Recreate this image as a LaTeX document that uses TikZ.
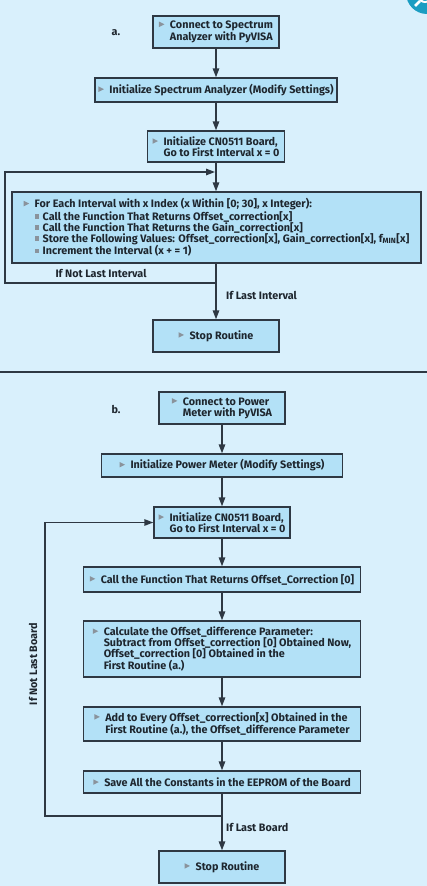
\documentclass[tikz,border=0pt]{standalone}
\usepackage{fontspec}
\setmainfont{Fira Sans}
\usetikzlibrary{arrows.meta}
\definecolor{bg}{HTML}{D9F0FC}
\definecolor{boxfill}{HTML}{B3E1F7}
\definecolor{edge}{HTML}{2E3843}
\definecolor{txt}{HTML}{1E262E}
\definecolor{mk}{HTML}{8A939C}
\definecolor{tealc}{HTML}{1B9DC2}
\newcommand{\tri}{\makebox[11pt][l]{\tikz[baseline=0pt]{\fill[mk] (0pt,1.5pt)--(0pt,7pt)--(5.5pt,4.25pt)--cycle;}}}
\newcommand{\ind}{\hspace*{11pt}}
\newcommand{\sqb}{\makebox[8pt][l]{\tikz[baseline=0pt]{\fill[mk] (0pt,1.5pt) rectangle (4.5pt,6pt);}}}
\tikzset{
  box/.style={draw=edge, line width=1.4pt, fill=boxfill, inner sep=0pt,
    font=\bfseries\fontsize{10.8}{11}\selectfont, text=txt, align=left},
  flow/.style={draw=edge, line width=1.4pt, -{Triangle[length=9pt,width=6.5pt]}},
  lbl/.style={font=\bfseries\fontsize{10.8}{11}\selectfont, text=txt, inner sep=0pt}
}
\begin{document}
\begin{tikzpicture}[x=1pt,y=-1pt]
\useasboundingbox (0,0) rectangle (427,886);
\fill[bg] (0,0) rectangle (427,886);
\begin{scope}
\clip (0,0) rectangle (427,886);
\fill[tealc] (427,-7) circle (21pt);
\draw[white, line width=2pt] (425,-4) circle (6pt);
\draw[white, line width=2.5pt] (420,1) -- (415,6);
\end{scope}

% part a
\node[lbl] (la) at (116,33) {a.};
\node[box, minimum width=126pt, minimum height=32pt] (a1) at (216,32) {\tri Connect to Spectrum\\\ind Analyzer with PyVISA};
\node[box, minimum width=242pt, minimum height=24pt] (a2) at (216,90) {\tri Initialize Spectrum Analyzer (Modify Settings)};
\node[box, minimum width=137pt, minimum height=31pt] (a3) at (216,146.5) {\tri Initialize CN0511 Board,\\\ind Go to First Interval x = 0};
\node[box, minimum width=409pt, minimum height=71pt] (a4) at (216.5,227.5) {\tri For Each Interval with x Index (x Within [0; 30], x Integer):\\
\ind\sqb Call the Function That Returns Offset\_correction[x]\\
\ind\sqb Call the Function That Returns the Gain\_correction[x]\\
\ind\sqb Store the Following Values: Offset\_correction[x], Gain\_correction[x], f\textsubscript{MIN}[x]\\
\ind\sqb Increment the Interval (x + = 1)};
\node[box, minimum width=126pt, minimum height=32pt] (a5) at (216,336) {\tri Stop Routine};

\coordinate (aj) at (216,283);
\coordinate (aL1) at (5,283);
\coordinate (aL2) at (5,172);
\coordinate (al) at (216,172);

\draw[flow] (a1) -- (a2);
\draw[flow] (a2) -- (a3);
\draw[flow] (a3.south) -- (a4.north -| a3.south);
\draw[flow] (a4.south -| a5.north) -- (a5.north);
\draw[flow, shorten >=1pt] (aj) -- (aL1) -- (aL2) -- (al);
\node[lbl] (nli) at (101,273) {If Not Last Interval};
\node[lbl, anchor=west] (li) at (226,295) {If Last Interval};

% separator
\coordinate (sL) at (0,372);
\coordinate (sR) at (427,372);
\draw[edge, line width=2pt] (sL) -- (sR);

% part b
\node[lbl] (lb) at (116,409) {b.};
\node[box, minimum width=126pt, minimum height=32pt] (b1) at (222,408) {\tri Connect to Power\\\ind Meter with PyVISA};
\node[box, minimum width=241pt, minimum height=23pt] (b2) at (222,465.5) {\tri Initialize Power Meter (Modify Settings)};
\node[box, minimum width=136pt, minimum height=31pt] (b3) at (222,522.5) {\tri Initialize CN0511 Board,\\\ind Go to First Interval x = 0};
\node[box, minimum width=277pt, minimum height=25pt] (b4) at (222,579.5) {\tri Call the Function That Returns Offset\_Correction [0]};
\node[box, minimum width=277pt, minimum height=56pt] (b5) at (222,649) {\tri Calculate the Offset\_difference Parameter:\\\ind Subtract from Offset\_correction [0] Obtained Now,\\\ind Offset\_correction [0] Obtained in the\\\ind First Routine (a.)};
\node[box, minimum width=277pt, minimum height=34pt] (b6) at (222,724) {\tri Add to Every Offset\_correction[x] Obtained in the\\\ind First Routine (a.), the Offset\_difference Parameter};
\node[box, minimum width=277pt, minimum height=22pt] (b7) at (222,782) {\tri Save All the Constants in the EEPROM of the Board};
\node[box, minimum width=126pt, minimum height=32pt] (b8) at (222,867) {\tri Stop Routine};

\coordinate (bj) at (222,816);
\coordinate (bL1) at (45,816);
\coordinate (bL2) at (45,522.5);

\draw[flow] (b1) -- (b2);
\draw[flow] (b2) -- (b3);
\draw[flow] (b3) -- (b4);
\draw[flow] (b4) -- (b5);
\draw[flow] (b5) -- (b6);
\draw[flow] (b6) -- (b7);
\draw[flow] (b7) -- (b8);
\draw[flow] (bj) -- (bL1) -- (bL2) -- (b3.west);
\node[lbl, anchor=west] (lbd) at (226,827) {If Last Board};
\node[lbl, rotate=90] (nlb) at (33,664) {If Not Last Board};
\end{tikzpicture}
\end{document}
